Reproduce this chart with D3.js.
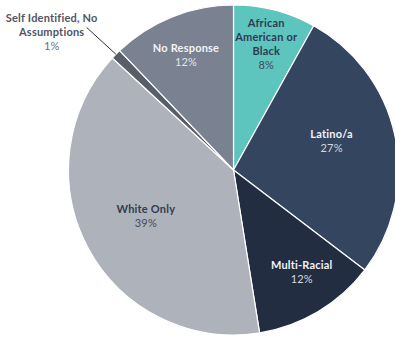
<!DOCTYPE html>
<html>
<head>
<meta charset="utf-8">
<script src="https://cdn.jsdelivr.net/npm/d3@7/dist/d3.min.js"></script>
<style>
  html, body { margin: 0; padding: 0; background: #ffffff; }
  svg { display: block; }
  text { font-family: Lato, "Open Sans", sans-serif; }
</style>
</head>
<body>
<svg id="chart" width="395" height="337"></svg>
<script>
// Respondents by race / ethnicity (percent)
const categories = ["African American or Black", "Latino/a", "Multi-Racial", "White Only", "Self Identified, No Assumptions", "No Response"];
const labelLines = [["African", "American or", "Black"], ["Latino/a"], ["Multi-Racial"], ["White Only"], ["Self Identified, No", "Assumptions"], ["No Response"]];
const values = [8, 27, 12, 39, 1, 12];

// Slice styling
const fills = ["#5ec4be", "#344560", "#232d42", "#adb2bb", "#585d68", "#7a8191"];
const nameColors = ["#2f3b52", "#f2f3f5", "#f2f3f5", "#333c50", "#4f5565", "#f2f3f5"];
const valueColors = ["#3f4b60", "#d4d8df", "#d4d8df", "#454e60", "#6a707c", "#e2e4e8"];
// Label placement: radius factor and angular nudge (degrees); null = outside with leader
const placement = [
  { k: 0.79, shift: 0 },
  { k: 0.62, shift: -4.7 },
  { k: 0.745, shift: -2.8 },
  { k: 0.60, shift: 0.5 },
  null,
  { k: 0.752, shift: -0.7 }
];

const svg = d3.select("#chart");
const cx = 233.5, cy = 170, R = 165;
const g = svg.append("g").attr("transform", `translate(${cx},${cy})`);

const pie = d3.pie().sort(null).value(d => d.value);
const data = categories.map((c, i) => ({ name: c, value: values[i], i }));
const arcs = pie(data);
const arc = d3.arc().innerRadius(0).outerRadius(R);

g.selectAll("path.slice")
  .data(arcs)
  .join("path")
  .attr("class", "slice")
  .attr("d", arc)
  .attr("fill", d => fills[d.data.i])
  .attr("stroke", "#ffffff")
  .attr("stroke-width", 1.2)
  .attr("stroke-linejoin", "round");

const lineH = 14;
function polar(angle, r) {
  return [Math.sin(angle) * r, -Math.cos(angle) * r];
}

arcs.forEach(d => {
  const i = d.data.i;
  const lines = labelLines[i];
  const valueText = d.data.value + "%";
  const mid = (d.startAngle + d.endAngle) / 2;
  let x, y;
  if (placement[i]) {
    const p = polar(mid + placement[i].shift * Math.PI / 180, R * placement[i].k);
    x = p[0]; y = p[1];
  } else {
    // outside label with a leader line
    const a = polar(mid, R);
    const b = polar(mid - 0.4 * Math.PI / 180, R * 1.24);
    g.append("line")
      .attr("x1", a[0]).attr("y1", a[1])
      .attr("x2", b[0]).attr("y2", b[1])
      .attr("stroke", "#2b3345")
      .attr("stroke-width", 1);
    x = b[0] - 35; y = b[1] + 4.5;
  }
  const n = lines.length + 1;
  const top = y - (n - 1) * lineH / 2;
  const t = g.append("text")
    .attr("text-anchor", "middle")
    .attr("font-size", 11)
    .attr("letter-spacing", 0.2);
  lines.forEach((ln, j) => {
    t.append("tspan")
      .attr("x", x)
      .attr("y", top + j * lineH)
      .attr("dy", "0.35em")
      .attr("font-weight", 700)
      .attr("fill", nameColors[i])
      .text(ln);
  });
  t.append("tspan")
    .attr("x", x)
    .attr("y", top + lines.length * lineH)
    .attr("dy", "0.35em")
    .attr("font-weight", 400)
    .attr("fill", valueColors[i])
    .text(valueText);
});
</script>
</body>
</html>
